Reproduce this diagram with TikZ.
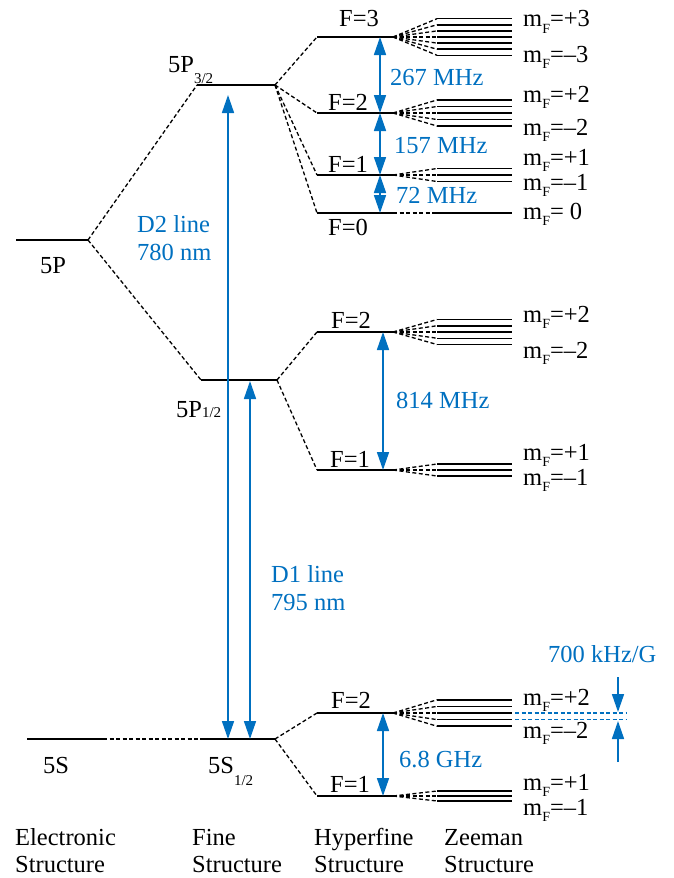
\documentclass[tikz,border=0pt]{standalone}
\usepackage{fontspec}
\setmainfont{Liberation Serif}
\usetikzlibrary{arrows.meta,calc}
\definecolor{LineBlue}{RGB}{0,112,192}
\newcommand{\lsub}[2][0pt]{\raisebox{-#1}{\fontsize{15}{15}\selectfont #2}}
\newcommand{\mF}[1]{m\raisebox{-6pt}{\fontsize{14}{14}\selectfont F}=#1}

\begin{document}
\begin{tikzpicture}[x=1pt,y=-1pt,
  every node/.style={font=\fontsize{24.5}{27}\selectfont, inner sep=0pt, anchor=base west},
  energy/.style={line width=1.8pt},
  zeeman/.style={line width=1.5pt},
  link/.style={line width=1.3pt, dash pattern=on 4pt off 2.5pt},
  trans/.style={LineBlue, line width=1.6pt, {Triangle[length=18pt,width=12pt]}-{Triangle[length=18pt,width=12pt]}},
  push/.style={LineBlue, line width=1.6pt, -{Triangle[length=18pt,width=12pt]}},
  blue text/.style={text=LineBlue}]
\useasboundingbox (0,0) rectangle (673,878);

% Electronic structure
\coordinate (Pw) at (16,240); \coordinate (Pe) at (88,240);
\coordinate (Sw) at (27,739); \coordinate (Se) at (103,739);
\draw[energy] (Pw) -- (Pe);
\draw[energy] (Sw) -- (Se);
\node (lP) at (40,273) {5P};
\node (lS) at (43,773) {5S};

% Fine structure
\coordinate (P3w) at (197,85);  \coordinate (P3e) at (275,85);
\coordinate (P1w) at (201,380); \coordinate (P1e) at (277,380);
\coordinate (S1w) at (200,739); \coordinate (S1e) at (275,739);
\draw[energy] (P3w) -- (P3e);
\draw[energy] (P1w) -- (P1e);
\draw[energy] (S1w) -- (S1e);
\draw[link] (Pe) -- (P3w);
\draw[link] (Pe) -- (P1w);
\draw[link] (Se) -- (S1w);
\node (lP3) at (168,72) {5P\lsub[11pt]{3/2}};
\node (lP1) at (176,417) {5P\lsub{1/2}};
\node (lS1) at (208,773) {5S\lsub[12pt]{1/2}};

% Hyperfine structure
\foreach \n/\y in {A3/37, A2/113, A1/175, A0/213, B2/332, B1/470, C2/713, C1/796} {
  \coordinate (\n w) at (317,\y);
  \coordinate (\n e) at (393,\y);
  \draw[energy] (\n w) -- (\n e);
}
\foreach \n in {A3,A2,A1,A0} \draw[link] (P3e) -- (\n w);
\foreach \n in {B2,B1} \draw[link] (P1e) -- (\n w);
\foreach \n in {C2,C1} \draw[link] (S1e) -- (\n w);
\node[anchor=base] (fA3) at (359,27) {F=3};
\node[anchor=base] (fA2) at (348,110) {F=2};
\node[anchor=base] (fA1) at (348,172) {F=1};
\node[anchor=base] (fA0) at (348,235) {F=0};
\node[anchor=base] (fB2) at (351,328) {F=2};
\node[anchor=base] (fB1) at (350,467) {F=1};
\node[anchor=base] (fC2) at (351,708) {F=2};
\node[anchor=base] (fC1) at (350,792) {F=1};

% Zeeman structure
\foreach \n/\k/\d in {A3/3/6.1, A2/2/6.5, A1/1/6.5, B2/2/6.25, B1/1/6, C2/2/6.6, C1/1/5}
  \foreach \m in {-\k,...,\k} {
    \draw[link] (\n e) -- ++(44,{-\m*\d}) coordinate (z\n\m);
    \draw[zeeman] (z\n\m) -- ++(75,0) coordinate (e\n\m);
  }
\draw[link] (A0e) -- ++(42,0) coordinate (zA00);
\draw[zeeman] (zA00) -- ++(77,0);
\foreach \nm/\y/\t in {a/27/+3, b/62/\textendash3, c/102/+2, d/135/\textendash2,
  e/165/+1, f/190/\textendash1, g/322/+2, h/358/\textendash2, i/460/+1,
  j/485/\textendash1, k/705/+2, l/738/\textendash2, m/790/+1, n/815/\textendash1}
  \node (m\nm) at (523,\y) {\mF{\t}};
\node (mz) at (523,219) {\mF{\ 0}};

% Splittings
\draw[trans] ($(A3w)+(63,0)$) -- ($(A2w)+(63,0)$);
\draw[trans] ($(A2w)+(63,0)$) -- ($(A1w)+(63,0)$);
\draw[trans] ($(A1w)+(63,0)$) -- ($(A0w)+(63,0)$);
\draw[trans] ($(B2w)+(66,0)$) -- ($(B1w)+(66,0)$);
\draw[trans] ($(C2w)+(66,0)$) -- ($(C1w)+(66,0)$);
\node[blue text] (s267) at (390,85) {267 MHz};
\node[blue text] (s157) at (394,153) {157 MHz};
\node[blue text] (s72) at (396,203) {72 MHz};
\node[blue text] (s814) at (396,408) {814 MHz};
\node[blue text] (s68) at (399,767) {6.8 GHz};

% D lines
\draw[trans] ($(S1w)+(28,0)$) -- ($(P3w)+(31,10)$);
\draw[trans] ($(S1w)+(50,0)$) -- ($(P1w)+(49,1)$);
\node[blue text] (D2a) at (137,232) {D2 line};
\node[blue text] (D2b) at (137,260) {780 nm};
\node[blue text] (D1a) at (271,582) {D1 line};
\node[blue text] (D1b) at (271,610) {795 nm};

% Zeeman shift per gauss
\draw[link, LineBlue] (eC20) ++(3,0) -- (627,713);
\draw[link, LineBlue] (eC2-1) ++(3,0) -- (627,719.6);
\coordinate (g1) at (618,677); \coordinate (g2) at (618,762);
\draw[push] (g1) -- (618,712);
\draw[push] (g2) -- (618,721);
\node[blue text] (s700) at (548,662) {700 kHz/G};

% Column titles
\foreach \x/\a/\b in {15/Electronic/Structure, 192/Fine/Structure,
  314/Hyperfine/Structure, 444/Zeeman/Structure} {
  \node (t\a) at (\x,845) {\a};
  \node (u\a) at (\x,872) {\b};
}
\end{tikzpicture}
\end{document}
